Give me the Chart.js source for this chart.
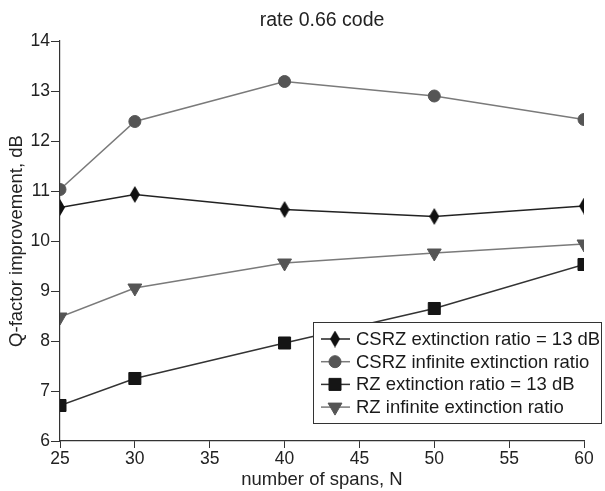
<!DOCTYPE html>
<html>
<head>
<meta charset="utf-8">
<script src="https://cdn.jsdelivr.net/npm/chart.js@4/dist/chart.umd.min.js"></script>
<style>
  html, body { margin: 0; padding: 0; background: #fff; }
  #wrap { width: 605px; height: 491px; }
</style>
</head>
<body>
<div id="wrap"><canvas id="qChart" width="605" height="491"></canvas></div>
<script>
// Data
const chartTitle = 'rate 0.66 code';
const spans = [25, 30, 40, 50, 60];
const csrz13 = [10.67, 10.93, 10.63, 10.49, 10.70];
const csrzInf = [11.03, 12.39, 13.19, 12.90, 12.43];
const rz13 = [6.71, 7.25, 7.96, 8.65, 9.53];
const rzInf = [8.48, 9.06, 9.56, 9.76, 9.94];
const seriesNames = [
    'CSRZ extinction ratio = 13 dB',
    'CSRZ infinite extinction ratio',
    'RZ extinction ratio = 13 dB',
    'RZ infinite extinction ratio'
];
const xTicks = [25, 30, 35, 40, 45, 50, 55, 60];
const yTicks = [6, 7, 8, 9, 10, 11, 12, 13, 14];

const FONT = 'Liberation Sans, Arial, sans-serif';

// Tall diamond marker
function makeDiamond(w, h, color) {
    const c = document.createElement('canvas');
    c.width = w; c.height = h;
    const g = c.getContext('2d');
    g.fillStyle = color;
    g.beginPath();
    g.moveTo(w / 2, 0);
    g.lineTo(w, h / 2);
    g.lineTo(w / 2, h);
    g.lineTo(0, h / 2);
    g.closePath();
    g.fill();
    return c;
}
const diamond = makeDiamond(10, 17, '#111');

const toXY = (vals) => vals.map((v, i) => ({ x: spans[i], y: v }));

const datasets = [
    { label: seriesNames[0], data: toXY(csrz13), borderColor: '#222', backgroundColor: '#111',
      pointStyle: diamond, pointRadius: 8, borderWidth: 1.5 },
    { label: seriesNames[1], data: toXY(csrzInf), borderColor: '#7a7a7a', backgroundColor: '#555',
      pointStyle: 'circle', pointRadius: 6, pointBorderColor: '#555', borderWidth: 1.5 },
    { label: seriesNames[2], data: toXY(rz13), borderColor: '#333', backgroundColor: '#151515',
      pointStyle: 'rect', pointRadius: 8.5, pointBorderColor: '#151515', borderWidth: 1.5 },
    { label: seriesNames[3], data: toXY(rzInf), borderColor: '#7a7a7a', backgroundColor: '#555',
      pointStyle: 'triangle', pointRotation: 180, pointRadius: 8, pointBorderColor: '#555', borderWidth: 1.5 }
];
datasets.forEach(d => { d.tension = 0; d.fill = false; d.pointBorderWidth = 1; });

// Title centred over the plot area
const plotTitle = {
    id: 'plotTitle',
    afterDraw(chart) {
        const ctx = chart.ctx;
        const a = chart.chartArea;
        ctx.save();
        ctx.font = '19.5px ' + FONT;
        ctx.fillStyle = '#222';
        ctx.textAlign = 'center';
        ctx.textBaseline = 'middle';
        ctx.fillText(chartTitle, (a.left + a.right) / 2, a.top - 20);
        ctx.restore();
    }
};

// Legend box drawn inside the plot
const boxLegend = {
    id: 'boxLegend',
    afterDraw(chart) {
        const ctx = chart.ctx;
        const a = chart.chartArea;
        const left = a.left + 253, top = a.top + 281, w = 288, h = 101;
        ctx.save();
        ctx.fillStyle = '#fff';
        ctx.fillRect(left, top, w, h);
        ctx.strokeStyle = '#333';
        ctx.lineWidth = 1;
        ctx.strokeRect(left + 0.5, top + 0.5, w, h);
        ctx.font = '18.5px ' + FONT;
        ctx.textBaseline = 'middle';
        chart.data.datasets.forEach((ds, i) => {
            const y = top + 17 + i * 22.7;
            ctx.strokeStyle = ds.borderColor;
            ctx.lineWidth = 1.5;
            ctx.beginPath();
            ctx.moveTo(left + 8, y);
            ctx.lineTo(left + 37, y);
            ctx.stroke();
            ctx.fillStyle = ds.backgroundColor;
            ctx.strokeStyle = ds.pointBorderColor || ds.backgroundColor;
            ctx.lineWidth = 1;
            Chart.helpers.drawPoint(ctx, {
                pointStyle: ds.pointStyle,
                rotation: ds.pointRotation || 0,
                radius: ds.pointRadius,
                borderWidth: 1
            }, left + 22, y);
            ctx.fillStyle = '#1a1a1a';
            ctx.fillText(ds.label, left + 43, y + 1);
        });
        ctx.restore();
    }
};

new Chart(document.getElementById('qChart'), {
    type: 'line',
    data: { datasets },
    options: {
        responsive: false,
        animation: false,
        layout: { padding: { left: 0, right: 21, top: 41, bottom: 0 } },
        plugins: {
            legend: { display: false },
            tooltip: { enabled: false },
            title: { display: false }
        },
        scales: {
            x: {
                type: 'linear',
                min: 25, max: 60,
                afterBuildTicks: (s) => { s.ticks = xTicks.map(v => ({ value: v })); },
                afterFit: (s) => { s.height = 50; },
                grid: { drawOnChartArea: false, drawTicks: true, tickLength: 7, color: '#333', lineWidth: 1 },
                border: { display: true, color: '#333', width: 1.2 },
                ticks: { color: '#222', font: { family: FONT, size: 17.5 }, padding: 1, maxRotation: 0 },
                title: {
                    display: true, text: 'number of spans, N', color: '#222',
                    font: { family: FONT, size: 18.5 }, padding: { top: 0, bottom: 0 }
                }
            },
            y: {
                min: 6, max: 14,
                afterBuildTicks: (s) => { s.ticks = yTicks.map(v => ({ value: v })); },
                afterFit: (s) => { s.width = 60; },
                grid: { drawOnChartArea: false, drawTicks: true, tickLength: 9, color: '#333', lineWidth: 1 },
                border: { display: true, color: '#333', width: 1.2 },
                ticks: { color: '#222', font: { family: FONT, size: 17.5 }, padding: 1 },
                title: {
                    display: true, text: 'Q-factor improvement, dB', color: '#222',
                    font: { family: FONT, size: 18.5 }, padding: { top: 6, bottom: 0 }
                }
            }
        }
    },
    plugins: [plotTitle, boxLegend]
});
</script>
</body>
</html>
